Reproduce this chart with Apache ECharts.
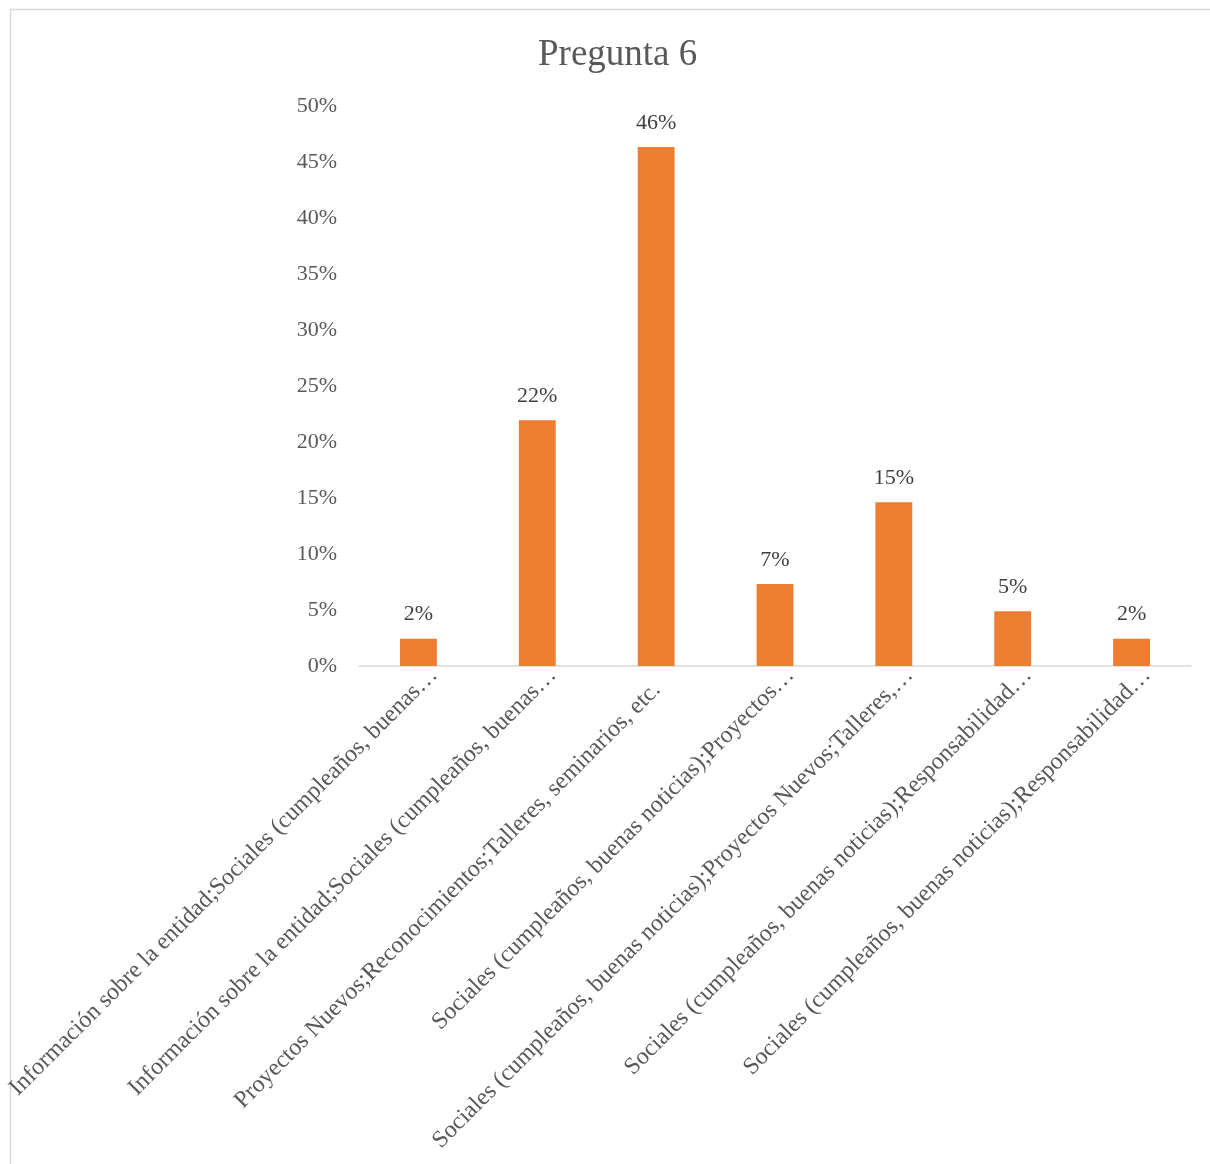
<!DOCTYPE html>
<html>
<head>
<meta charset="utf-8">
<title>Pregunta 6</title>
<script src="https://cdn.jsdelivr.net/npm/echarts@6/dist/echarts.min.js"></script>
<style>
  html, body { margin: 0; padding: 0; background: #ffffff; }
  #chart { width: 1210px; height: 1164px; }
</style>
</head>
<body>
<div id="chart"></div>
<script>
// Response categories (as shown, long names shortened with an ellipsis)
const categories = [
  'Información sobre la entidad;Sociales (cumpleaños, buenas…',
  'Información sobre la entidad;Sociales (cumpleaños, buenas…',
  'Proyectos Nuevos;Reconocimientos;Talleres, seminarios, etc.',
  'Sociales (cumpleaños, buenas noticias);Proyectos…',
  'Sociales (cumpleaños, buenas noticias);Proyectos Nuevos;Talleres,…',
  'Sociales (cumpleaños, buenas noticias);Responsabilidad…',
  'Sociales (cumpleaños, buenas noticias);Responsabilidad…'
];

// Share of answers per category
const shares = [0.0244, 0.2195, 0.4634, 0.0732, 0.1463, 0.0488, 0.0244];

// Value axis range
const axisMin = 0;
const axisMax = 0.5;
const axisStep = 0.05;

const pct = v => Math.round(v * 100) + '%';
const FONT = '"Liberation Serif", "Times New Roman", serif';

const chart = echarts.init(document.getElementById('chart'), null, { renderer: 'canvas' });

chart.setOption({
  backgroundColor: '#ffffff',
  animation: false,
  title: {
    text: 'Pregunta 6',
    left: 533,
    top: 32,
    textStyle: { fontFamily: FONT, fontSize: 37, fontWeight: 'normal', color: '#595959' }
  },
  graphic: [{
    type: 'rect',
    silent: true,
    shape: { x: 10.5, y: 9.5, width: 1400, height: 1400 },
    style: { fill: 'none', stroke: '#D9D9D9', lineWidth: 1.5 }
  }],
  grid: {
    left: 359, right: 19, top: 106, bottom: 498,
    containLabel: false,
    outerBoundsMode: 'none'
  },
  xAxis: {
    type: 'category',
    data: categories,
    axisLine: { show: true, lineStyle: { color: '#D9D9D9', width: 1.5 } },
    axisTick: { show: false },
    axisLabel: {
      interval: 0,
      rotate: 45,
      margin: -10,
      lineHeight: 44,
      fontFamily: FONT,
      fontSize: 24,
      color: '#595959',
      hideOverlap: false,
      // an empty first line drops each label below the axis line;
      // the full (unshortened) label keeps a small gap at its end
      formatter: (value, index) => '\n' + value + (index === 2 ? '{gap|}' : ''),
      rich: {
        gap: { width: 21, fontSize: 24, lineHeight: 44 }
      }
    },
    splitLine: { show: false }
  },
  yAxis: {
    type: 'value',
    min: axisMin,
    max: axisMax,
    interval: axisStep,
    axisLine: { show: false },
    axisTick: { show: false },
    splitLine: { show: false },
    axisLabel: {
      margin: 22,
      fontFamily: FONT,
      fontSize: 22,
      color: '#595959',
      formatter: pct
    }
  },
  series: [{
    type: 'bar',
    data: shares,
    barWidth: '31%',
    itemStyle: { color: '#ED7D31' },
    label: {
      show: true,
      position: 'top',
      distance: 13,
      fontFamily: FONT,
      fontSize: 22,
      color: '#404040',
      formatter: p => pct(p.value)
    }
  }]
});
</script>
</body>
</html>
